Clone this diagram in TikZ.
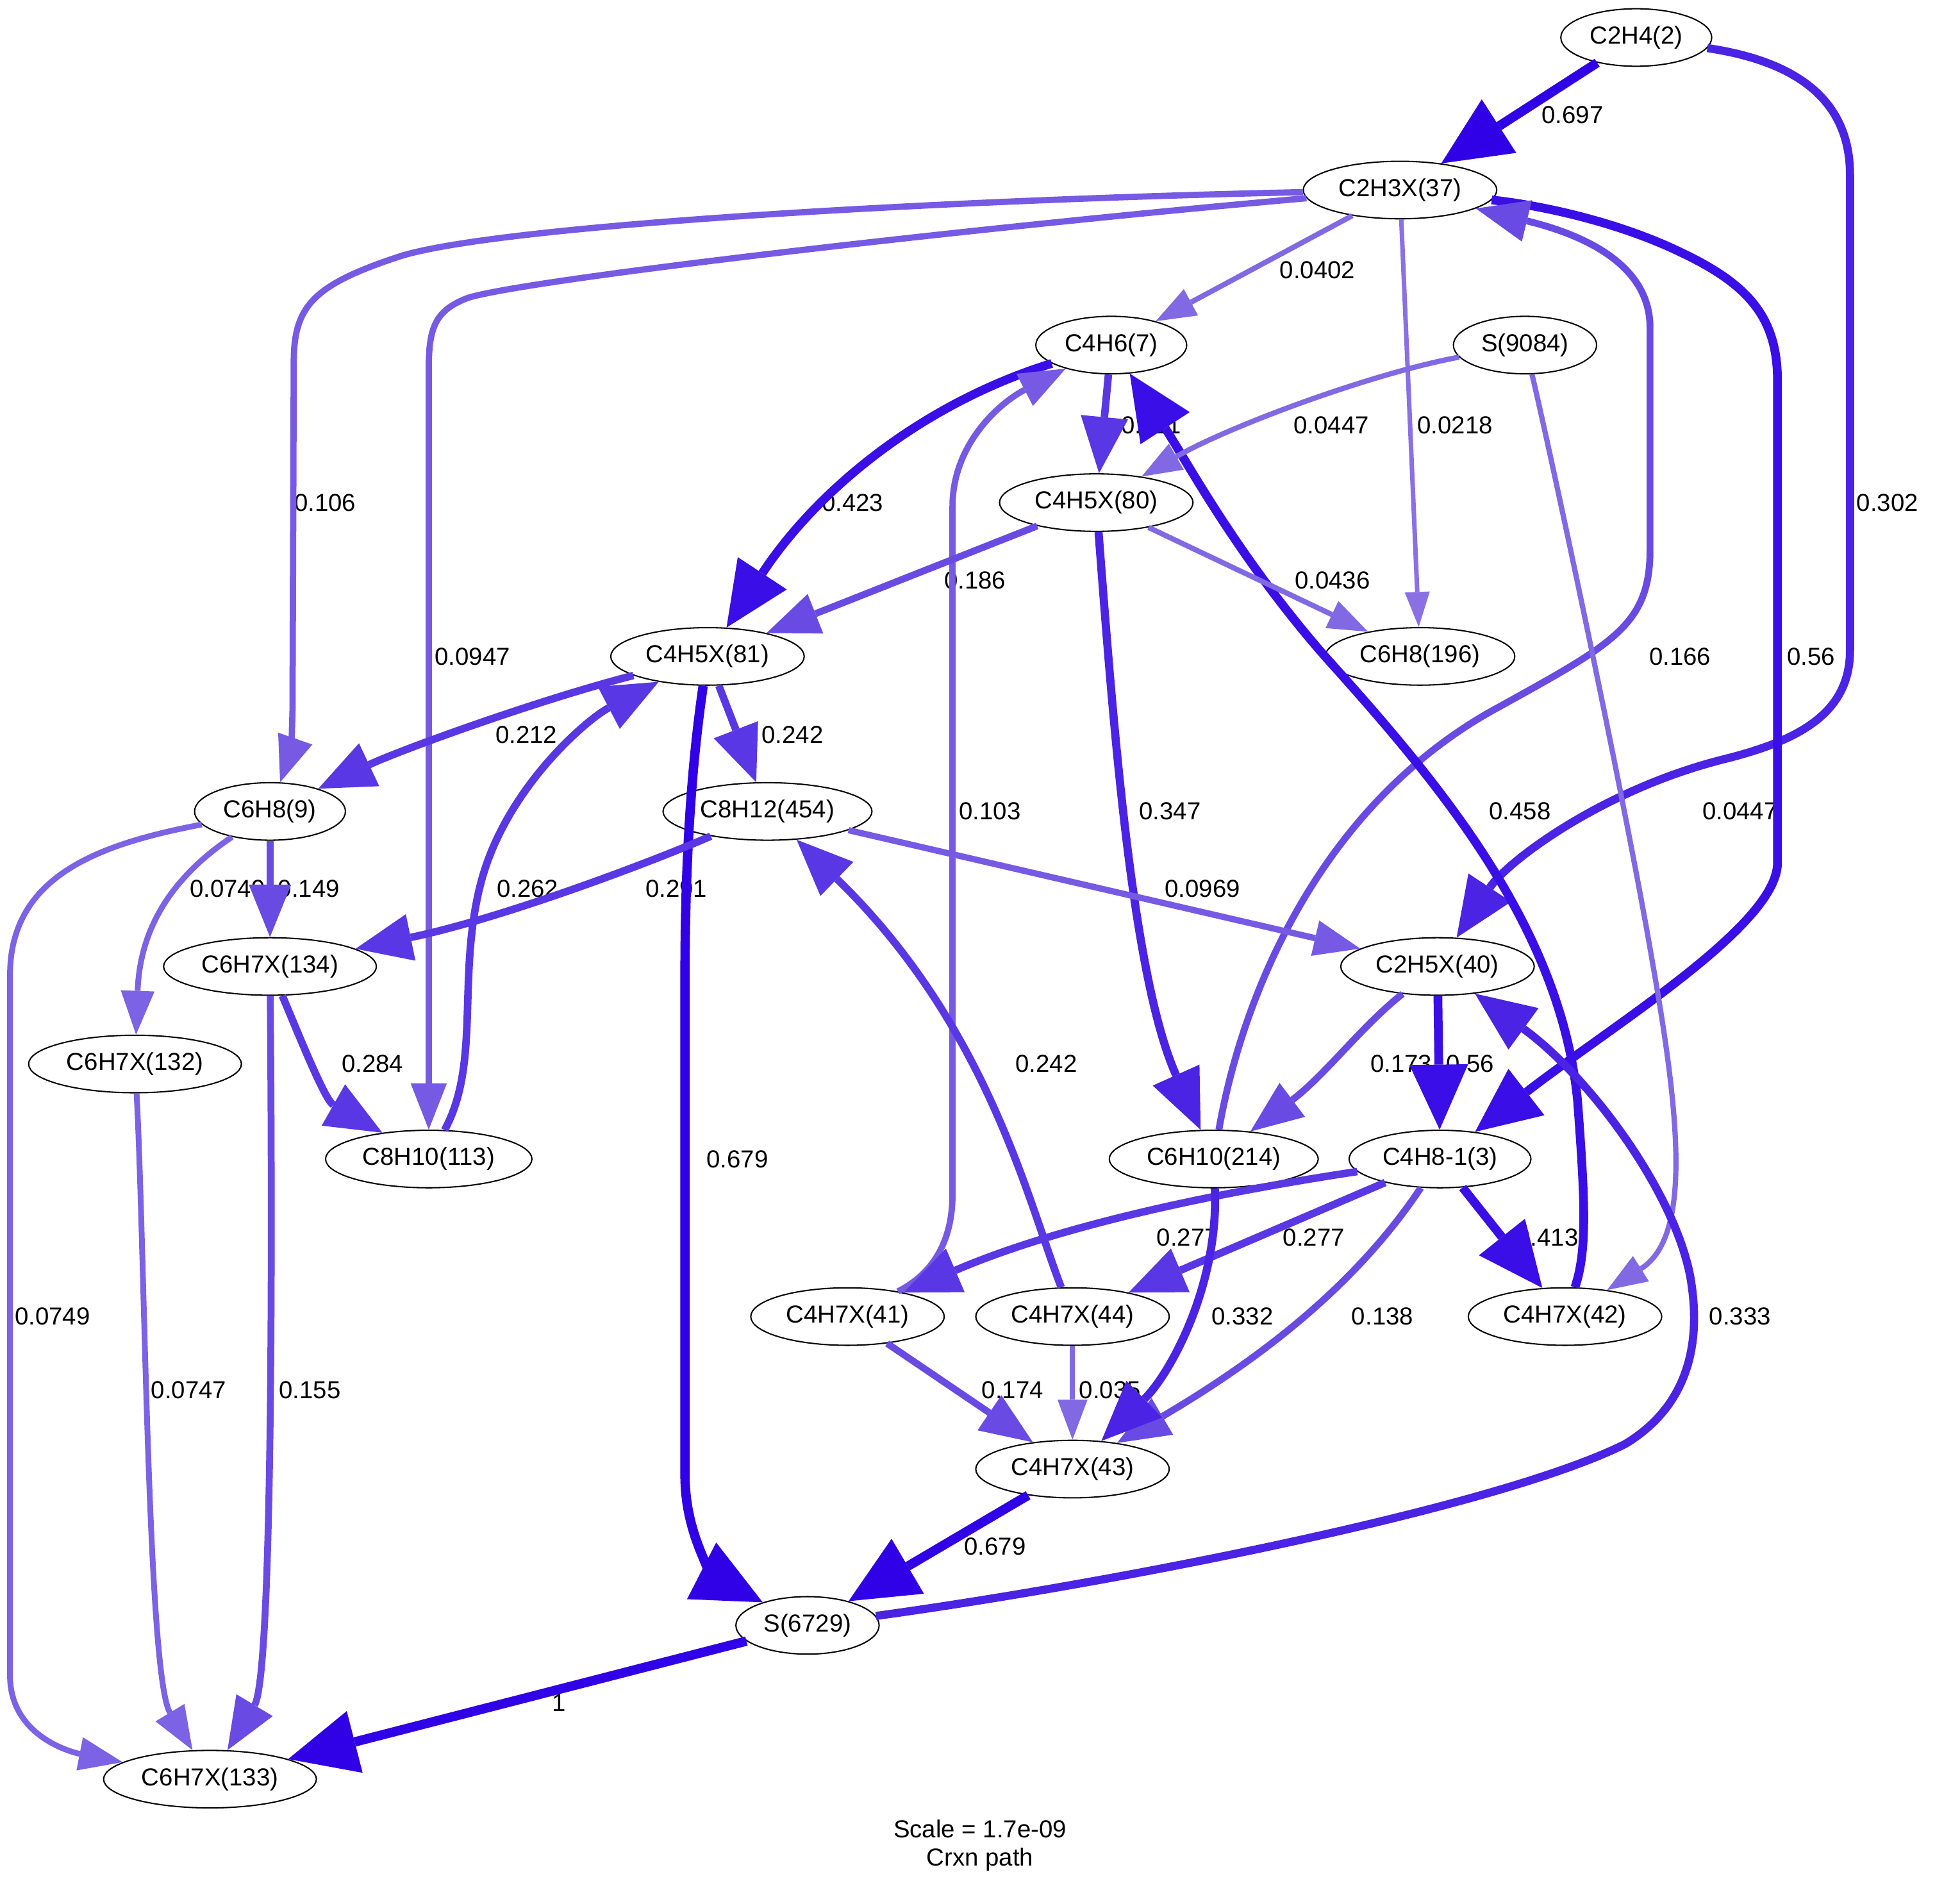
\documentclass[tikz,border=0pt]{standalone}
\usepackage{fontspec}
\setmainfont{Liberation Sans}
\usetikzlibrary{arrows.meta, shapes.geometric}

\definecolor{fluxA}{RGB}{48,0,230}
\definecolor{fluxB}{RGB}{58,14,230}
\definecolor{fluxC}{RGB}{75,35,228}
\definecolor{fluxD}{RGB}{90,55,228}
\definecolor{fluxE}{RGB}{105,75,228}
\definecolor{fluxF}{RGB}{118,90,228}
\definecolor{fluxG}{RGB}{124,98,228}
\definecolor{fluxH}{RGB}{130,105,228}
\definecolor{fluxI}{RGB}{138,112,228}

\newcommand{\gvfont}{\fontsize{11.2}{12.6}\selectfont}

\tikzset{
    species/.style={ellipse, draw, line width=0.6pt, inner xsep=0.11cm, inner ysep=0pt,
        minimum height=0.92cm, font=\gvfont},
    flbl/.style={inner sep=0pt, font=\gvfont},
    fa/.style={draw=fluxA, line width=0.15cm, -{Triangle[length=1.10cm, width=1.02cm, line width=0pt]}},
    fb/.style={draw=fluxB, line width=0.14cm, -{Triangle[length=1.04cm, width=0.94cm, line width=0pt]}},
    fc/.style={draw=fluxC, line width=0.13cm, -{Triangle[length=0.96cm, width=0.82cm, line width=0pt]}},
    fd/.style={draw=fluxD, line width=0.12cm, -{Triangle[length=0.90cm, width=0.76cm, line width=0pt]}},
    fe/.style={draw=fluxE, line width=0.11cm, -{Triangle[length=0.84cm, width=0.68cm, line width=0pt]}},
    ff/.style={draw=fluxF, line width=0.10cm, -{Triangle[length=0.74cm, width=0.58cm, line width=0pt]}},
    fg/.style={draw=fluxG, line width=0.092cm, -{Triangle[length=0.70cm, width=0.54cm, line width=0pt]}},
    fh/.style={draw=fluxH, line width=0.084cm, -{Triangle[length=0.64cm, width=0.48cm, line width=0pt]}},
    fi/.style={draw=fluxI, line width=0.072cm, -{Triangle[length=0.56cm, width=0.40cm, line width=0pt]}},
}

\begin{document}
\begin{tikzpicture}[x=0.02cm, y=-0.02cm]
    \useasboundingbox (0,0) rectangle (1568,1510);

    % species
    \node[species] (sp2)    at (1309,30)   {C2H4(2)};
    \node[species] (sp37)   at (1120,152)  {C2H3X(37)};
    \node[species] (sp7)    at (889,276)   {C4H6(7)};
    \node[species] (sp9084) at (1220,276)  {S(9084)};
    \node[species] (sp80)   at (877,402)   {C4H5X(80)};
    \node[species] (sp81)   at (566,525)   {C4H5X(81)};
    \node[species] (sp196)  at (1136,525)  {C6H8(196)};
    \node[species] (sp9)    at (216,649)   {C6H8(9)};
    \node[species] (sp454)  at (614,649)   {C8H12(454)};
    \node[species] (sp134)  at (216,773)   {C6H7X(134)};
    \node[species] (sp40)   at (1150,773)  {C2H5X(40)};
    \node[species] (sp132)  at (108,851)   {C6H7X(132)};
    \node[species] (sp113)  at (343,927)   {C8H10(113)};
    \node[species] (sp214)  at (971,927)   {C6H10(214)};
    \node[species] (sp3)    at (1152,927)  {C4H8-1(3)};
    \node[species] (sp41)   at (678,1053)  {C4H7X(41)};
    \node[species] (sp44)   at (858,1053)  {C4H7X(44)};
    \node[species] (sp42)   at (1252,1053) {C4H7X(42)};
    \node[species] (sp43)   at (858,1175)  {C4H7X(43)};
    \node[species] (sp6729) at (646,1300)  {S(6729)};
    \node[species] (sp133)  at (168,1423)  {C6H7X(133)};

    % flux labels
    \node[flbl] (f2-37)     at (1258,92)   {0.697};
    \node[flbl] (f2-40)     at (1510,402)  {0.302};
    \node[flbl] (f37-7)     at (1054,216)  {0.0402};
    \node[flbl] (f37-196)   at (1164,340)  {0.0218};
    \node[flbl] (f37-9)     at (260,402)   {0.106};
    \node[flbl] (f37-113)   at (378,525)   {0.0947};
    \node[flbl] (f37-3)     at (1449,525)  {0.56};
    \node[flbl] (f214-37)   at (1344,525)  {0.166};
    \node[flbl] (f7-80)     at (921,340)   {0.211};
    \node[flbl] (f7-81)     at (682,402)   {0.423};
    \node[flbl] (f41-7)     at (792,649)   {0.103};
    \node[flbl] (f42-7)     at (1216,649)  {0.458};
    \node[flbl] (f9084-80)  at (1065,340)  {0.0447};
    \node[flbl] (f9084-42)  at (1392,649)  {0.0447};
    \node[flbl] (f80-81)    at (780,464)   {0.186};
    \node[flbl] (f80-196)   at (1066,464)  {0.0436};
    \node[flbl] (f80-214)   at (936,649)   {0.347};
    \node[flbl] (f81-9)     at (421,588)   {0.212};
    \node[flbl] (f81-454)   at (634,588)   {0.242};
    \node[flbl] (f81-6729)  at (590,927)   {0.679};
    \node[flbl] (f113-81)   at (422,711)   {0.262};
    \node[flbl] (f9-134)    at (247,711)   {0.149};
    \node[flbl] (f9-132)    at (182,711)   {0.0749};
    \node[flbl] (f9-133)    at (42,1053)   {0.0749};
    \node[flbl] (f454-134)  at (541,711)   {0.291};
    \node[flbl] (f454-40)   at (962,711)   {0.0969};
    \node[flbl] (f44-454)   at (837,851)   {0.242};
    \node[flbl] (f134-113)  at (298,851)   {0.284};
    \node[flbl] (f134-133)  at (248,1112)  {0.155};
    \node[flbl] (f132-133)  at (151,1112)  {0.0747};
    \node[flbl] (f40-214)   at (1121,851)  {0.173};
    \node[flbl] (f40-3)     at (1176,851)  {0.56};
    \node[flbl] (f6729-40)  at (1392,1053) {0.333};
    \node[flbl] (f3-41)     at (950,990)   {0.277};
    \node[flbl] (f3-44)     at (1051,990)  {0.277};
    \node[flbl] (f3-42)     at (1238,990)  {0.413};
    \node[flbl] (f3-43)     at (1106,1053) {0.138};
    \node[flbl] (f214-43)   at (994,1053)  {0.332};
    \node[flbl] (f41-43)    at (810,1112)  {0.174};
    \node[flbl] (f44-43)    at (888,1112)  {0.035};
    \node[flbl] (f43-6729)  at (796,1237)  {0.679};
    \node[flbl] (f6729-133) at (447,1362)  {1};

    \node[flbl, align=center] (caption) at (784,1476) {Scale = 1.7e-09\\Crxn path};

    % fluxes
    \draw[fa] (sp2) -- (sp37);
    \draw[fc] (sp2) .. controls (1430,48) and (1480,75) .. (1480,140) -- (1480,520)
        .. controls (1480,570) and (1440,592) .. (1380,607)
        .. controls (1280,632) and (1205,690) .. (sp40);
    \draw[fh] (sp37) -- (sp7);
    \draw[fi] (sp37) -- (sp196);
    \draw[ff] (sp37) .. controls (750,160) and (400,180) .. (320,205)
        .. controls (250,228) and (235,245) .. (235,290) -- (234,570)
        .. controls (233,600) .. (sp9);
    \draw[ff] (sp37) .. controls (800,180) and (430,222) .. (375,238)
        .. controls (348,248) and (343,262) .. (343,295) -- (sp113);
    \draw[fb] (sp37) .. controls (1240,165) and (1300,180) .. (1345,202)
        .. controls (1400,228) and (1422,255) .. (1422,305) -- (1422,690)
        .. controls (1422,740) and (1290,820) .. (sp3);
    \draw[fe] (sp214) .. controls (995,790) and (1060,640) .. (1200,565)
        .. controls (1290,515) and (1320,500) .. (1320,440) -- (1320,262)
        .. controls (1320,212) and (1268,188) .. (sp37);
    \draw[fd] (sp7) -- (sp80);
    \draw[fb] (sp7) .. controls (740,322) and (655,390) .. (sp81);
    \draw[ff] (sp41) .. controls (740,1022) and (762,1000) .. (762,955) -- (762,405)
        .. controls (762,355) and (800,322) .. (sp7);
    \draw[fb] (sp42) .. controls (1270,1000) and (1268,960) .. (1262,880)
        .. controls (1248,740) and (1150,625) .. (1060,525)
        .. controls (990,445) and (950,370) .. (sp7);
    \draw[fh] (sp9084) .. controls (1100,298) and (985,340) .. (sp80);
    \draw[fh] (sp9084) .. controls (1240,360) and (1300,640) .. (1322,770)
        .. controls (1345,900) and (1352,990) .. (sp42);
    \draw[fe] (sp80) -- (sp81);
    \draw[fh] (sp80) -- (sp196);
    \draw[fc] (sp80) .. controls (890,570) and (905,780) .. (sp214);
    \draw[fd] (sp81) .. controls (430,560) and (320,600) .. (sp9);
    \draw[fd] (sp81) -- (sp454);
    \draw[fa] (sp81) .. controls (552,620) and (548,700) .. (548,780) -- (548,1180)
        .. controls (548,1235) and (578,1265) .. (sp6729);
    \draw[fd] (sp113) .. controls (385,850) and (365,780) .. (385,705)
        .. controls (405,630) and (470,575) .. (sp81);
    \draw[fe] (sp9) -- (sp134);
    \draw[fg] (sp9) .. controls (140,700) and (112,740) .. (sp132);
    \draw[fg] (sp9) .. controls (80,675) and (8,700) .. (8,780) -- (8,1340)
        .. controls (8,1390) and (60,1402) .. (sp133);
    \draw[fd] (sp454) .. controls (520,690) and (400,735) .. (sp134);
    \draw[ff] (sp454) -- (sp40);
    \draw[fd] (sp44) .. controls (822,960) and (790,820) .. (sp454);
    \draw[fd] (sp134) .. controls (240,830) and (260,880) .. (sp113);
    \draw[fe] (sp134) .. controls (218,1000) and (218,1340) .. (sp133);
    \draw[fg] (sp132) .. controls (116,1000) and (118,1340) .. (sp133);
    \draw[fe] (sp40) .. controls (1090,820) and (1060,860) .. (sp214);
    \draw[fb] (sp40) -- (sp3);
    \draw[fc] (sp6729) .. controls (900,1265) and (1200,1205) .. (1300,1155)
        .. controls (1350,1125) and (1362,1075) .. (1352,1020)
        .. controls (1338,950) and (1270,860) .. (sp40);
    \draw[fd] (sp3) .. controls (1000,950) and (860,975) .. (sp41);
    \draw[fd] (sp3) -- (sp44);
    \draw[fb] (sp3) -- (sp42);
    \draw[fe] (sp3) .. controls (1090,1020) and (1020,1080) .. (sp43);
    \draw[fc] (sp214) .. controls (975,1030) and (935,1100) .. (sp43);
    \draw[fe] (sp41) -- (sp43);
    \draw[fh] (sp44) -- (sp43);
    \draw[fa] (sp43) -- (sp6729);
    \draw[fa] (sp6729) -- (sp133);
\end{tikzpicture}
\end{document}
